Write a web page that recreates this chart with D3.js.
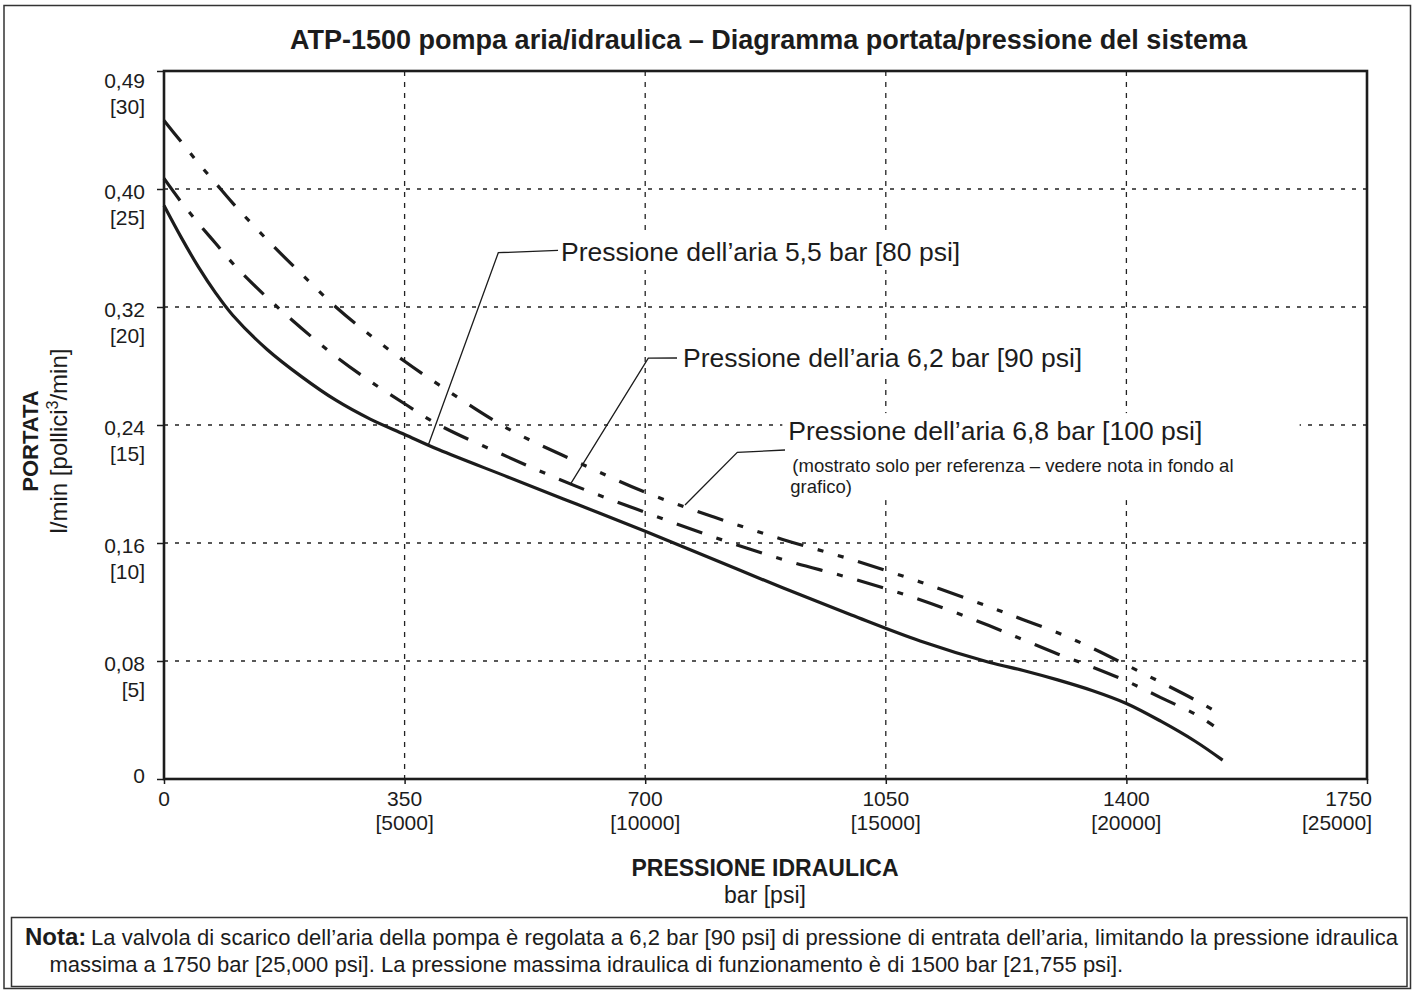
<!DOCTYPE html>
<html>
<head>
<meta charset="utf-8">
<script src="https://cdn.jsdelivr.net/npm/d3@7"></script>
<style>
  html, body { margin: 0; padding: 0; background: #fff; }
  svg { display: block; font-family: "Liberation Sans", Arial, Helvetica, sans-serif; }
</style>
</head>
<body>
<svg id="chart" width="1416" height="990"></svg>
<script>
// ---------- DATA ----------
const title = "ATP-1500 pompa aria/idraulica – Diagramma portata/pressione del sistema";

// hydraulic pressure (bar) sample points
const pressureBar   = [0, 25, 50, 75, 100, 150, 200, 250, 300, 350, 400, 500, 600, 700, 800, 900, 1000, 1100, 1200, 1250, 1300, 1350, 1400, 1450, 1500, 1540];
const pressureBar90 = [0, 25, 50, 75, 100, 150, 200, 250, 300, 350, 400, 500, 600, 700, 800, 900, 1000, 1100, 1200, 1250, 1300, 1350, 1400, 1450, 1500, 1527];
// flow in in^3/min for each air pressure
const flow80psi  = [24.3, 22.95, 21.7, 20.6, 19.65, 18.2, 17.05, 16.05, 15.25, 14.6, 13.95, 12.8, 11.65, 10.5, 9.3, 8.1, 6.95, 5.85, 4.95, 4.6, 4.2, 3.75, 3.2, 2.45, 1.6, 0.8];
const flow90psi  = [25.45, 24.45, 23.55, 22.7, 21.85, 20.4, 19.1, 17.9, 16.85, 15.9, 15.0, 13.65, 12.4, 11.3, 10.25, 9.3, 8.5, 7.6, 6.5, 5.9, 5.3, 4.75, 4.15, 3.45, 2.75, 2.25];
const flow100psi = [27.9, 27.0, 26.1, 25.25, 24.4, 22.85, 21.4, 20.0, 18.8, 17.7, 16.7, 14.85, 13.45, 12.15, 11.1, 10.15, 9.3, 8.35, 7.3, 6.75, 6.2, 5.55, 4.83, 4.1, 3.35, 2.7];

// axis ticks
const xTickBar = [0, 350, 700, 1050, 1400, 1750];
const xTickPsi = ["", "[5000]", "[10000]", "[15000]", "[20000]", "[25000]"];
const yTickIn3 = [0, 5, 10, 15, 20, 25, 30];
const yTickLpm = ["0", "0,08", "0,16", "0,24", "0,32", "0,40", "0,49"];
const yTickIn3Label = ["", "[5]", "[10]", "[15]", "[20]", "[25]", "[30]"];

const seriesNames = ["Pressione dell’aria 5,5 bar [80 psi]", "Pressione dell’aria 6,2 bar [90 psi]", "Pressione dell’aria 6,8 bar [100 psi]"];
const seriesNote = ["(mostrato solo per referenza – vedere nota in fondo al", "grafico)"];

const xTitle = "PRESSIONE IDRAULICA";
const xUnit = "bar [psi]";
const yTitle = "PORTATA";
const noteLabel = "Nota:";
const noteLine1 = "La valvola di scarico dell’aria della pompa è regolata a 6,2 bar [90 psi] di pressione di entrata dell’aria, limitando la pressione idraulica";
const noteLine2 = "massima a 1750 bar [25,000 psi]. La pressione massima idraulica di funzionamento è di 1500 bar [21,755 psi].";

// ---------- LAYOUT ----------
const svg = d3.select("#chart");
const plot = {left: 164, right: 1367, top: 71, bottom: 779};
const ink = "#1c1c1c";

const x = d3.scaleLinear().domain([0, 1750]).range([plot.left, plot.right]);
const y = d3.scaleLinear().domain([0, 30]).range([plot.bottom, plot.top]);

// outer frame
svg.append("rect").attr("x", 4).attr("y", 5.5).attr("width", 1406.5).attr("height", 983)
  .attr("fill", "none").attr("stroke", "#333").attr("stroke-width", 1.5);

// title
svg.append("text").attr("x", 768.5).attr("y", 49).attr("text-anchor", "middle")
  .attr("font-size", 27).attr("font-weight", "bold").attr("fill", ink).text(title);

// grid
const grid = svg.append("g").attr("stroke", "#222").attr("stroke-width", 1.3);
grid.selectAll("line.h").data(yTickIn3.filter(v => v > 0 && v < 30)).join("line")
  .attr("x1", plot.left).attr("x2", plot.right)
  .attr("y1", d => y(d)).attr("y2", d => y(d))
  .attr("stroke-dasharray", "4,7");
grid.selectAll("line.v").data(xTickBar.filter(v => v > 0 && v < 1750)).join("line")
  .attr("x1", d => x(d)).attr("x2", d => x(d))
  .attr("y1", plot.top).attr("y2", plot.bottom)
  .attr("stroke-dasharray", "5,6");

// axes ticks
const gx = svg.append("g").attr("transform", `translate(0,${plot.bottom})`)
  .call(d3.axisBottom(x).tickValues(xTickBar).tickSize(5).tickFormat(""));
const gy = svg.append("g").attr("transform", `translate(${plot.left},0)`)
  .call(d3.axisLeft(y).tickValues(yTickIn3).tickSize(7).tickFormat(""));
gx.select(".domain").remove(); gy.select(".domain").remove();
gx.selectAll("line").attr("stroke", ink).attr("stroke-width", 1.5);
gy.selectAll("line").attr("stroke", ink).attr("stroke-width", 1.5);

// x tick labels
xTickBar.forEach((v, i) => {
  const last = i === xTickBar.length - 1;
  const t = svg.append("text").attr("font-size", 21).attr("fill", ink)
    .attr("text-anchor", last ? "end" : "middle");
  const tx = last ? x(v) + 5 : x(v);
  t.append("tspan").attr("x", tx).attr("y", plot.bottom + 27).text(String(v));
  if (xTickPsi[i]) t.append("tspan").attr("x", tx).attr("y", plot.bottom + 51).text(xTickPsi[i]);
});

// y tick labels
yTickIn3.forEach((v, i) => {
  let base = y(v) + 9.5;
  if (i === 0) base = y(v) + 4;
  if (i === yTickIn3.length - 1) base = y(v) + 17;
  const t = svg.append("text").attr("font-size", 21).attr("fill", ink).attr("text-anchor", "end");
  t.append("tspan").attr("x", 145).attr("y", base).text(yTickLpm[i]);
  if (yTickIn3Label[i]) t.append("tspan").attr("x", 145).attr("y", base + 26).text(yTickIn3Label[i]);
});

// axis titles
const yt = svg.append("g").attr("transform", "translate(38,441) rotate(-90)");
yt.append("text").attr("text-anchor", "middle").attr("y", 0).attr("font-size", 22)
  .attr("font-weight", "bold").attr("fill", ink).text(yTitle);
const yu = yt.append("text").attr("text-anchor", "middle").attr("y", 29).attr("font-size", 24).attr("fill", ink);
yu.append("tspan").text("l/min [pollici");
yu.append("tspan").attr("font-size", 16).attr("dy", -9).text("3");
yu.append("tspan").attr("dy", 9).text("/min]");

svg.append("text").attr("x", 765).attr("y", 876).attr("text-anchor", "middle")
  .attr("font-size", 23).attr("font-weight", "bold").attr("fill", ink).text(xTitle);
svg.append("text").attr("x", 765).attr("y", 903).attr("text-anchor", "middle")
  .attr("font-size", 23).attr("fill", ink).text(xUnit);

// ---------- ANNOTATIONS (data units) ----------
const annotations = [
  {leader: [[384.5, 14.15], [486.3, 22.3], [573.2, 22.4]], text: [577.5, 21.95], boxRight: null},
  {leader: [[590.6, 12.46], [704.5, 17.83], [746.3, 17.84]], text: [755, 17.46], boxRight: null},
  {leader: [[757.9, 11.61], [834, 13.84], [903.4, 13.94]], text: [908.2, 14.36], boxRight: 1652}
];

const annG = svg.append("g");
annotations.forEach((a, k) => {
  const g = annG.append("g");
  const bg = g.append("rect").attr("fill", "#fff");
  const t = g.append("text").attr("fill", ink);
  t.append("tspan").attr("x", x(a.text[0])).attr("y", y(a.text[1])).attr("font-size", 26.5).text(seriesNames[k]);
  if (k === 2) {
    t.append("tspan").attr("x", x(a.text[0]) + 4).attr("y", y(a.text[1]) + 31.5).attr("font-size", 18.5).text(seriesNote[0]);
    t.append("tspan").attr("x", x(a.text[0]) + 2).attr("y", y(a.text[1]) + 53).attr("font-size", 18.5).text(seriesNote[1]);
  }
  const bb = t.node().getBBox();
  const right = a.boxRight ? x(a.boxRight) : bb.x + bb.width + 5;
  bg.attr("x", bb.x - 6).attr("y", bb.y - 3).attr("width", right - (bb.x - 6)).attr("height", bb.height + 6);
});

// ---------- CURVES ----------
const line = d3.line().x(d => x(d[0])).y(d => y(d[1])).curve(d3.curveCatmullRom.alpha(0.5));
const curves = [
  {xs: pressureBar, ys: flow80psi, dash: null},
  {xs: pressureBar90, ys: flow90psi, dash: "27,15,6,15"},
  {xs: pressureBar, ys: flow100psi, dash: "27,15,6,15,6,15"}
];
svg.append("g").selectAll("path").data(curves).join("path")
  .attr("d", c => line(c.xs.map((v, i) => [v, c.ys[i]])))
  .attr("fill", "none").attr("stroke", ink).attr("stroke-width", 3.2)
  .attr("stroke-dasharray", c => c.dash);

// leader lines (on top)
const leaderLine = d3.line().x(d => x(d[0])).y(d => y(d[1]));
svg.append("g").selectAll("path").data(annotations).join("path")
  .attr("d", a => leaderLine(a.leader))
  .attr("fill", "none").attr("stroke", ink).attr("stroke-width", 1.3);

// plot frame
svg.append("rect").attr("x", plot.left).attr("y", plot.top)
  .attr("width", plot.right - plot.left).attr("height", plot.bottom - plot.top)
  .attr("fill", "none").attr("stroke", ink).attr("stroke-width", 2.6);

// ---------- NOTE ----------
svg.append("rect").attr("x", 11.5).attr("y", 917.5).attr("width", 1395.5).attr("height", 69)
  .attr("fill", "none").attr("stroke", "#333").attr("stroke-width", 1.5);
svg.append("text").attr("x", 25).attr("y", 945).attr("font-size", 24).attr("font-weight", "bold")
  .attr("fill", ink).text(noteLabel);
svg.append("text").attr("x", 91).attr("y", 945).attr("font-size", 22).attr("fill", ink)
  .attr("textLength", 1307).attr("lengthAdjust", "spacing").text(noteLine1);
svg.append("text").attr("x", 49.5).attr("y", 972).attr("font-size", 22).attr("fill", ink).text(noteLine2);
</script>
</body>
</html>
